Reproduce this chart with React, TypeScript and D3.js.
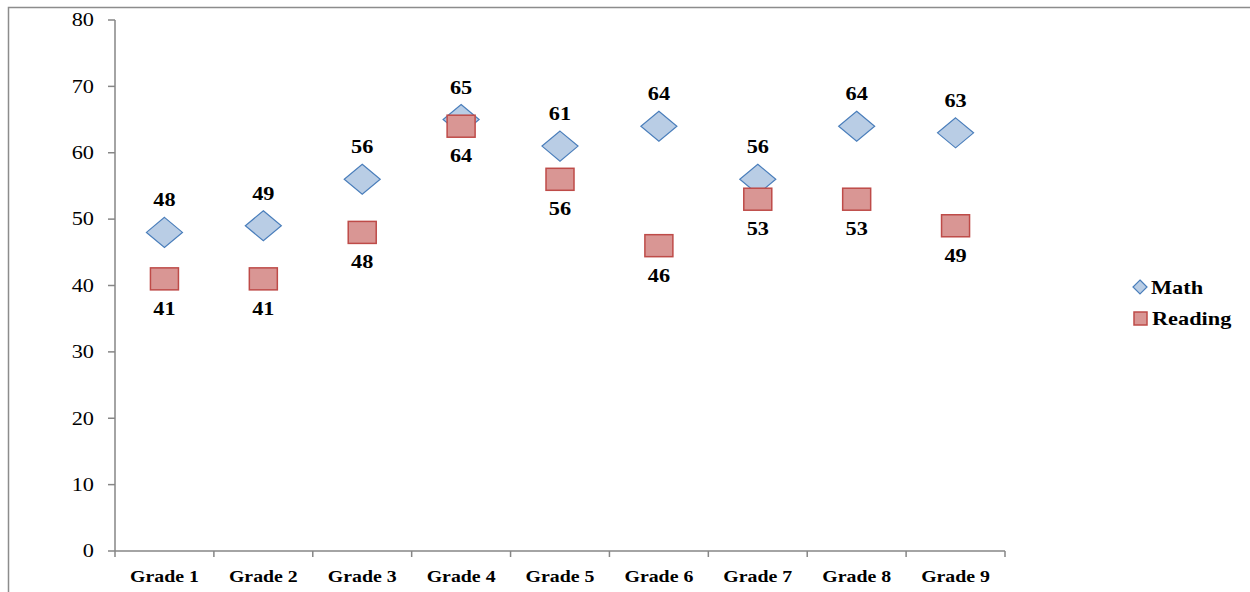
import * as d3 from 'd3';
import React, { useEffect, useRef } from 'react';

const grades = ['Grade 1', 'Grade 2', 'Grade 3', 'Grade 4', 'Grade 5', 'Grade 6', 'Grade 7', 'Grade 8', 'Grade 9'];
const mathScores = [48, 49, 56, 65, 61, 64, 56, 64, 63];
const readingScores = [41, 41, 48, 64, 56, 46, 53, 53, 49];
const yTicks = [0, 10, 20, 30, 40, 50, 60, 70, 80];

// the original text is drawn a bit wider than plain Times
const stretch = 1.24;

const App: React.FC = () => {
  const ref = useRef<SVGSVGElement>(null);

  useEffect(() => {
    if (!ref.current) return;
    const width = 1250;
    const height = 592;
    const font = '"Liberation Serif", "Times New Roman", serif';

    const svg = d3.select(ref.current);
    svg.selectAll('*').remove();
    svg.attr('width', width).attr('height', height).style('display', 'block');

    svg.append('rect')
      .attr('x', 8.5).attr('y', 7.5)
      .attr('width', 1400).attr('height', 800)
      .attr('fill', 'white').attr('stroke', '#8c8c8c').attr('stroke-width', 1.5);

    const x = d3.scaleBand().domain(grades).range([115, 1005]);
    const y = d3.scaleLinear().domain([0, 80]).range([551, 20]);
    const at = (px: number, py: number) => `translate(${px},${py}) scale(${stretch},1)`;

    // y axis
    const yAxis = svg.append('g');
    yAxis.append('line')
      .attr('x1', 115).attr('x2', 115).attr('y1', y(80)).attr('y2', y(0))
      .attr('stroke', '#868686').attr('stroke-width', 1.5);
    yAxis.selectAll('line.tick').data(yTicks).enter().append('line')
      .attr('class', 'tick')
      .attr('x1', 108).attr('x2', 115)
      .attr('y1', d => y(d)).attr('y2', d => y(d))
      .attr('stroke', '#868686').attr('stroke-width', 1.5);
    yAxis.selectAll('text').data(yTicks).enter().append('text')
      .attr('transform', d => at(94, y(d)))
      .attr('dy', '0.35em')
      .attr('text-anchor', 'end')
      .style('font-family', font).style('font-size', '18px')
      .text(d => d);

    // x axis
    const xAxis = svg.append('g');
    xAxis.append('line')
      .attr('x1', 115).attr('x2', 1005).attr('y1', y(0)).attr('y2', y(0))
      .attr('stroke', '#868686').attr('stroke-width', 1.5);
    const bounds = grades.map(g => x(g) as number).concat([1005]);
    xAxis.selectAll('line.tick').data(bounds).enter().append('line')
      .attr('class', 'tick')
      .attr('x1', d => d).attr('x2', d => d)
      .attr('y1', y(0)).attr('y2', y(0) + 6)
      .attr('stroke', '#868686').attr('stroke-width', 1.5);
    xAxis.selectAll('text').data(grades).enter().append('text')
      .attr('transform', d => at((x(d) as number) + x.bandwidth() / 2, 582))
      .attr('text-anchor', 'middle')
      .style('font-family', font).style('font-size', '16px').style('font-weight', 'bold')
      .text(d => d);

    const cx = (i: number) => (x(grades[i]) as number) + x.bandwidth() / 2;
    const diamond = (px: number, py: number) =>
      `M${px},${py - 15}L${px + 18},${py}L${px},${py + 15}L${px - 18},${py}Z`;

    // math diamonds
    svg.append('g').selectAll('path').data(mathScores).enter().append('path')
      .attr('d', (d, i) => diamond(cx(i), y(d)))
      .attr('fill', '#b9cde5').attr('stroke', '#4a7ebb').attr('stroke-width', 1.2);

    // reading squares
    svg.append('g').selectAll('rect').data(readingScores).enter().append('rect')
      .attr('x', (d, i) => cx(i) - 14).attr('y', d => y(d) - 11)
      .attr('width', 28).attr('height', 22)
      .attr('fill', '#d99694').attr('stroke', '#be4b48').attr('stroke-width', 1.5);

    const labelStyle = (sel: d3.Selection<SVGTextElement, number, SVGGElement, unknown>) =>
      sel.attr('text-anchor', 'middle')
        .style('font-family', font).style('font-size', '18px').style('font-weight', 'bold');

    svg.append('g').selectAll('text').data(mathScores).enter().append('text')
      .attr('transform', (d, i) => at(cx(i), y(d) - 26))
      .call(labelStyle)
      .text(d => d);

    svg.append('g').selectAll('text').data(readingScores).enter().append('text')
      .attr('transform', (d, i) => at(cx(i), y(d) + 36))
      .call(labelStyle)
      .text(d => d);

    // legend
    const legend = svg.append('g');
    legend.append('path')
      .attr('d', 'M1140,280L1147,287L1140,294L1133,287Z')
      .attr('fill', '#b9cde5').attr('stroke', '#4a7ebb').attr('stroke-width', 1.2);
    legend.append('text')
      .attr('transform', at(1151, 294))
      .style('font-family', font).style('font-size', '18px').style('font-weight', 'bold')
      .text('Math');
    legend.append('rect')
      .attr('x', 1134).attr('y', 312).attr('width', 13).attr('height', 13)
      .attr('fill', '#d99694').attr('stroke', '#be4b48').attr('stroke-width', 1.5);
    legend.append('text')
      .attr('transform', at(1152, 325))
      .style('font-family', font).style('font-size', '18px').style('font-weight', 'bold')
      .text('Reading');
  }, []);

  return <svg ref={ref} style={{ position: 'absolute', left: 0, top: 0 }} />;
};

export default App;
